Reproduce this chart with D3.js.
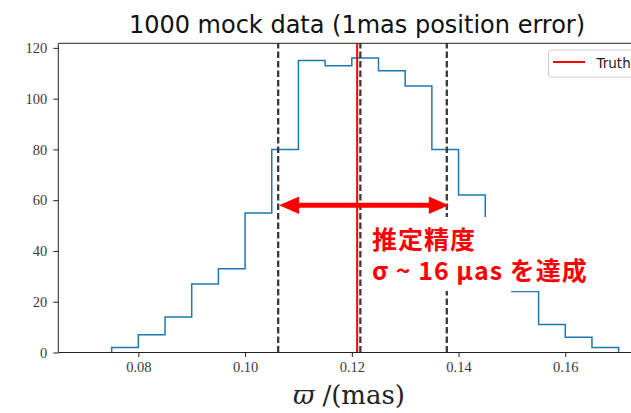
<!DOCTYPE html>
<meta charset="utf-8">
<head>
<script src="https://d3js.org/d3.v7.min.js"></script>
<style>
  body { margin: 0; background: #fff; }
</style>
</head>
<body>
<svg id="chart" width="631" height="413"></svg>
<script>
// histogram of 1000 mock parallaxes
var binEdges = [0.075, 0.080, 0.085, 0.090, 0.095, 0.100, 0.105, 0.110, 0.115, 0.120,
                0.125, 0.130, 0.135, 0.140, 0.145, 0.150, 0.155, 0.160, 0.165, 0.170];
var counts = [2, 7, 14, 27, 33, 55, 80, 115, 113, 116, 111, 105, 80, 62, 37, 24, 11, 6, 2];

var xTicks = [0.08, 0.10, 0.12, 0.14, 0.16];
var yTicks = [0, 20, 40, 60, 80, 100, 120];

var truthValue = 0.121;
var percentiles = [0.1062, 0.1216, 0.1378];   // 16%, 50%, 84%
var arrowLevel = 58;

var titleText = "1000 mock data (1mas position error)";
var noteLines = ["推定精度", "σ ~ 16 µas を達成"];
var legendLabels = ["Truth"];

var svg = d3.select("#chart");

// plot area (right side runs past the cropped picture)
var pL = 58.3, pR = 648, pT = 43.3, pB = 352.5;

var x = d3.scaleLinear().domain([0.065, 0.1755]).range([pL, pR]);
var y = d3.scaleLinear().domain([0, 121.8]).range([pB, pT]);

// step outline
var pts = [[binEdges[0], 0]];
counts.forEach(function(c, i) {
  pts.push([binEdges[i], c]);
  pts.push([binEdges[i + 1], c]);
});
pts.push([binEdges[binEdges.length - 1], 0]);

svg.append("path")
  .datum(pts)
  .attr("d", d3.line().x(function(d) { return x(d[0]); }).y(function(d) { return y(d[1]); }))
  .attr("fill", "none")
  .attr("stroke", "#1f77b4")
  .attr("stroke-width", 1.5);

// truth line
svg.append("line")
  .attr("x1", x(truthValue)).attr("x2", x(truthValue))
  .attr("y1", pB).attr("y2", pT)
  .attr("stroke", "#ff0000")
  .attr("stroke-width", 2);

// percentile lines
svg.selectAll(".pct")
  .data(percentiles)
  .enter().append("line")
    .attr("class", "pct")
    .attr("x1", function(d) { return x(d); })
    .attr("x2", function(d) { return x(d); })
    .attr("y1", pB).attr("y2", pT)
    .attr("stroke", "#3a3a3a")
    .attr("stroke-width", 2.3)
    .attr("stroke-dasharray", "6.5,3");

// double arrow between 16% and 84%
var ax0 = x(percentiles[0]) + 1, ax1 = x(percentiles[2]) + 2, ay = y(arrowLevel);
var headL = 20, headH = 8.8;
svg.append("line")
  .attr("x1", ax0 + headL - 2).attr("x2", ax1 - headL + 2)
  .attr("y1", ay).attr("y2", ay)
  .attr("stroke", "#ff0000")
  .attr("stroke-width", 5);
svg.append("path")
  .attr("d", "M" + ax0 + "," + ay + "L" + (ax0 + headL) + "," + (ay - headH) + "L" + (ax0 + headL) + "," + (ay + headH) + "Z" +
             "M" + ax1 + "," + ay + "L" + (ax1 - headL) + "," + (ay - headH) + "L" + (ax1 - headL) + "," + (ay + headH) + "Z")
  .attr("fill", "#ff0000");

// white box behind the note
svg.append("rect")
  .attr("x", 366).attr("y", 217)
  .attr("width", 228).attr("height", 74)
  .attr("fill", "#fff");

svg.selectAll(".note")
  .data(noteLines)
  .enter().append("text")
    .attr("class", "note")
    .attr("x", 372)
    .attr("y", function(d, i) { return 249 + i * 31; })
    .attr("fill", "#ff0000")
    .attr("font-family", "'Noto Sans CJK JP', sans-serif")
    .attr("font-weight", "bold")
    .attr("font-size", 25)
    .attr("letter-spacing", 1)
    .text(function(d) { return d; });

// axes
var xAxis = svg.append("g")
  .attr("transform", "translate(0," + pB + ")")
  .call(d3.axisBottom(x).tickValues(xTicks).tickSize(4.5).tickPadding(5)
        .tickFormat(d3.format(".2f")));
var yAxis = svg.append("g")
  .attr("transform", "translate(" + pL + ",0)")
  .call(d3.axisLeft(y).tickValues(yTicks).tickSize(5).tickPadding(6));

[xAxis, yAxis].forEach(function(g) {
  g.select(".domain").remove();
  g.selectAll("line").attr("stroke", "#222").attr("stroke-width", 1);
  g.selectAll("text")
    .attr("font-family", "'Liberation Serif', serif")
    .attr("font-size", 14.5)
    .attr("fill", "#3a3a3a");
});

// spines
svg.append("path")
  .attr("d", "M" + pL + "," + pB + "V" + pT + "H" + pR + "M" + pL + "," + pB + "H" + pR)
  .attr("fill", "none")
  .attr("stroke", "#222")
  .attr("stroke-width", 1);

// title
svg.append("text")
  .attr("x", 357).attr("y", 33)
  .attr("text-anchor", "middle")
  .attr("font-family", "'DejaVu Sans', sans-serif")
  .attr("font-size", 24)
  .attr("fill", "#111")
  .text(titleText);

// x label
var xl = svg.append("text")
  .attr("x", 349).attr("y", 404)
  .attr("text-anchor", "middle")
  .attr("font-family", "'DejaVu Serif', serif")
  .attr("font-size", 26)
  .attr("fill", "#222");
xl.append("tspan").attr("font-style", "italic").text("ϖ");
xl.append("tspan").text(" /(mas)");

// legend
var lg = svg.append("g").attr("transform", "translate(548.5,50)");
lg.append("rect")
  .attr("width", 100).attr("height", 27)
  .attr("rx", 3)
  .attr("fill", "#fff").attr("fill-opacity", 0.8)
  .attr("stroke", "#cccccc");
lg.selectAll(".lgline")
  .data(legendLabels)
  .enter().append("line")
    .attr("x1", 4.5).attr("x2", 36.5)
    .attr("y1", 12).attr("y2", 12)
    .attr("stroke", "#ff0000").attr("stroke-width", 2);
lg.selectAll(".lgtext")
  .data(legendLabels)
  .enter().append("text")
    .attr("x", 48).attr("y", 18)
    .attr("font-family", "'DejaVu Sans', sans-serif")
    .attr("font-size", 13.5)
    .attr("fill", "#222")
    .text(function(d) { return d; });
</script>
</body>
